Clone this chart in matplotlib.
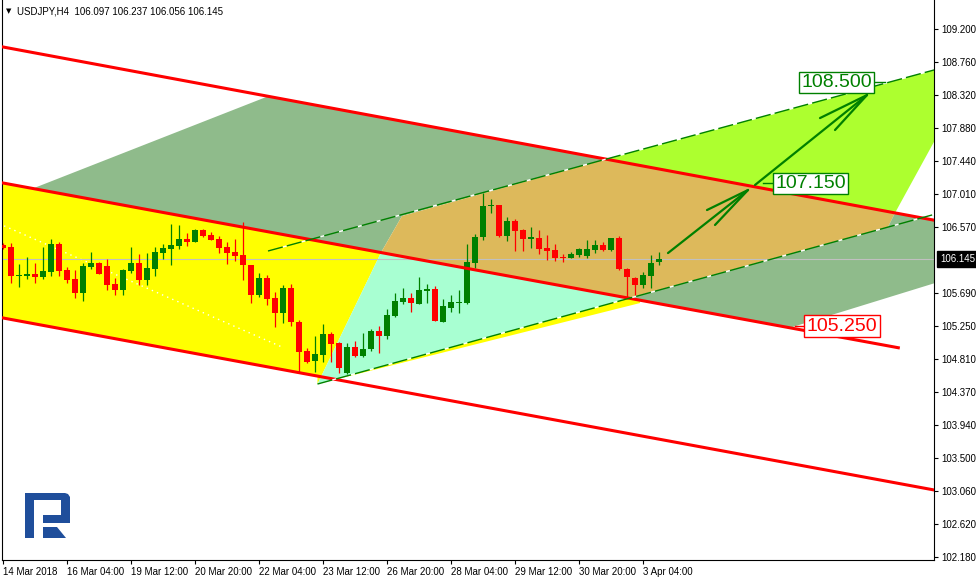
import numpy as np
import matplotlib
matplotlib.use("Agg")
import matplotlib.pyplot as plt
from matplotlib.patches import Polygon
from matplotlib.transforms import blended_transform_factory

plt.rcParams['font.family'] = ['Liberation Sans', 'DejaVu Sans']

# USDJPY H4 candles (bar index 0..82)
opens = [106.328, 106.297, 105.915, 105.920, 105.942, 105.906, 105.973, 106.341, 105.995, 105.871,
         105.694, 106.039, 106.093, 106.048, 105.809, 105.729, 105.982, 106.084, 105.862, 106.008,
         106.217, 106.274, 106.314, 106.407, 106.367, 106.527, 106.461, 106.407, 106.297, 106.230,
         106.195, 106.062, 105.663, 105.884, 105.618, 105.428, 105.751, 105.299, 104.918, 104.789,
         104.865, 105.144, 105.020, 104.621, 104.976, 104.852, 104.945, 105.184, 105.118, 105.383,
         105.570, 105.627, 105.543, 105.720, 105.743, 105.308, 105.494, 105.561, 105.552, 106.093,
         106.430, 106.842, 106.860, 106.447, 106.647, 106.527, 106.407, 106.416, 106.283, 106.261,
         106.164, 106.159, 106.195, 106.186, 106.261, 106.328, 106.261, 106.416, 106.004, 105.884,
         105.796, 105.915, 106.097]
highs = [106.350, 106.350, 106.075, 106.164, 106.093, 106.297, 106.407, 106.363, 106.031, 105.995,
         106.084, 106.230, 106.106, 106.137, 105.884, 106.008, 106.297, 106.208, 106.217, 106.305,
         106.341, 106.607, 106.594, 106.483, 106.540, 106.540, 106.496, 106.447, 106.372, 106.407,
         106.633, 106.062, 105.951, 105.929, 105.707, 105.796, 105.809, 105.330, 104.962, 105.117,
         105.277, 105.175, 105.042, 105.020, 105.055, 105.153, 105.206, 105.251, 105.472, 105.685,
         105.751, 105.694, 105.907, 105.809, 105.782, 105.610, 105.663, 105.729, 106.341, 106.474,
         107.024, 106.935, 106.860, 106.696, 106.669, 106.540, 106.563, 106.527, 106.461, 106.341,
         106.208, 106.239, 106.292, 106.394, 106.394, 106.372, 106.425, 106.447, 106.017, 105.907,
         105.973, 106.195, 106.237]
lows = [106.270, 105.818, 105.773, 105.880, 105.827, 105.871, 105.920, 105.920, 105.827, 105.627,
        105.587, 106.008, 105.942, 105.729, 105.663, 105.663, 105.960, 105.796, 105.796, 105.915,
        106.141, 106.062, 106.274, 106.314, 106.363, 106.430, 106.394, 106.226, 106.070, 106.119,
        105.862, 105.561, 105.632, 105.530, 105.242, 105.295, 105.250, 104.643, 104.754, 104.643,
        104.776, 104.776, 104.630, 104.612, 104.843, 104.843, 104.922, 104.896, 105.082, 105.375,
        105.539, 105.441, 105.543, 105.561, 105.321, 105.308, 105.441, 105.419, 105.543, 106.017,
        106.394, 106.749, 106.438, 106.385, 106.252, 106.252, 106.283, 106.208, 106.128, 106.119,
        106.106, 106.150, 106.172, 106.159, 106.217, 106.248, 106.252, 105.995, 105.618, 105.663,
        105.751, 105.751, 106.056]
closes = [106.292, 105.920, 105.929, 105.942, 105.906, 105.982, 106.341, 105.986, 105.862, 105.694,
          106.048, 106.093, 105.942, 105.796, 105.729, 105.995, 106.084, 105.862, 106.017, 106.230,
          106.283, 106.328, 106.407, 106.372, 106.527, 106.452, 106.394, 106.292, 106.226, 106.181,
          106.062, 105.663, 105.884, 105.609, 105.428, 105.751, 105.308, 104.909, 104.776, 104.874,
          105.144, 105.011, 104.688, 104.976, 104.852, 104.945, 105.184, 105.122, 105.397, 105.583,
          105.627, 105.552, 105.729, 105.747, 105.321, 105.516, 105.570, 105.570, 106.106, 106.438,
          106.846, 106.860, 106.447, 106.647, 106.518, 106.407, 106.430, 106.274, 106.252, 106.150,
          106.155, 106.208, 106.274, 106.274, 106.328, 106.261, 106.416, 106.004, 105.907, 105.796,
          105.929, 106.093, 106.145]

time_ticks = [0, 8, 16, 24, 32, 40, 48, 56, 64, 72, 80]
time_labels = ['14 Mar 2018', '16 Mar 04:00', '19 Mar 12:00', '20 Mar 20:00', '22 Mar 04:00',
               '23 Mar 12:00', '26 Mar 20:00', '28 Mar 04:00', '29 Mar 12:00', '30 Mar 20:00',
               '3 Apr 04:00']
price_ticks = [109.200, 108.760, 108.320, 107.880, 107.440, 107.010, 106.570, 105.690, 105.250,
               104.810, 104.370, 103.940, 103.500, 103.060, 102.620, 102.180]
last_price = 106.145

# red channel lines (bar, price)
red_upper = ([-1, 116.5], [108.981, 106.656])
red_middle = ([-1, 112.1], [107.172, 104.958])
red_lower = ([-1, 116.5], [105.377, 103.068])
# green dashed channel
green_upper = ([33.125, 116.5], [106.248, 108.659])
green_lower = ([39.31, 116.5], [104.479, 106.738])
white_dotted = ([-1, 34.875], [106.635, 104.971])

# filled zones (bar, price)
zone_yellow = [(-1, 107.172), (47.25, 106.227), (39.31, 104.479), (79.625, 105.664),
               (79.625, 105.556), (39.31, 104.479), (39.31, 104.585), (-1, 105.377)]
zone_aqua = [(47.25, 106.227), (78.125, 105.62), (39.31, 104.479)]
zone_sage_a = [(3.75, 107.08), (33.0, 108.30), (75.375, 107.47), (49.875, 106.713), (47.25, 106.227)]
zone_orange = [(47.25, 106.227), (49.875, 106.713), (75.375, 107.47), (111.5, 106.754),
               (110.625, 106.567), (78.125, 105.62)]
zone_lime = [(75.375, 107.47), (116.5, 108.659), (116.5, 107.724), (111.5, 106.754)]
zone_sage_d = [(78.125, 105.62), (110.625, 106.567), (111.5, 106.754), (116.5, 106.656),
               (116.5, 105.822), (98.375, 105.227)]

# forecast arrows: shaft start, tip, two head ends
arrows = [((83.125, 106.221), (93.125, 107.059), (88.0, 106.793), (89.0, 106.594)),
          ((94.0, 107.126), (108.0, 108.322), (102.125, 108.016), (104.0, 107.857))]
level_labels = ['108.500', '107.150', '105.250']
level_prices = [108.49, 107.146, 105.25]
level_bars = [104.2, 100.94, 104.875]
level_colors = ['#008000', '#008000', '#ff0000']
level_ticks = [(108.75, 110.25), (95.0, 96.4), (99.0, 100.4)]

fig = plt.figure(figsize=(9.76, 5.81), dpi=100)
ax = fig.add_axes([2 / 976, 21 / 581, 932 / 976, 560 / 581])
ax.set_xlim(-0.125, 116.375)
ax.set_ylim(102.139, 109.586)

for pts, col in [(zone_yellow, '#ffff00'), (zone_aqua, '#a8ffd2'), (zone_sage_a, '#8fbb8b'),
                 (zone_orange, '#ddb95b'), (zone_lime, '#adff2f'), (zone_sage_d, '#8fbb8b')]:
    ax.add_patch(Polygon(pts, closed=True, facecolor=col, edgecolor='none', zorder=1))

ax.plot(*white_dotted, color='white', lw=1.0, ls=(0, (1, 3)), zorder=1.5)
ax.axhline(last_price, color='#c0c0c0', lw=0.8, zorder=2)

x = np.arange(len(opens))
o = np.array(opens)
c = np.array(closes)
cols = np.where(c >= o, '#008000', '#ff0000')
ax.vlines(x, lows, highs, colors=cols, lw=0.9, zorder=3)
ax.bar(x, np.maximum(np.abs(c - o), 0.012), bottom=np.minimum(o, c), width=0.72,
       color=cols, zorder=3.1)

for xs, ys in [red_upper, red_middle, red_lower]:
    ax.plot(xs, ys, color='#ff0000', lw=2.2, zorder=4, solid_capstyle='butt')
for xs, ys in [green_upper, green_lower]:
    ax.plot(xs, ys, color='#008000', lw=1.0, dashes=(11, 3), gapcolor='white', zorder=4.5)

for start, tip, h1, h2 in arrows:
    kw = dict(color='#008000', lw=1.6, zorder=5, solid_capstyle='round')
    ax.plot([start[0], tip[0]], [start[1], tip[1]], **kw)
    ax.plot([h1[0], tip[0], h2[0]], [h1[1], tip[1], h2[1]], **kw)

for txt, yb, xb, col, (t0, t1) in zip(level_labels, level_prices, level_bars, level_colors, level_ticks):
    ax.plot([t0, t1], [yb, yb], color=col, lw=1.0, zorder=5)
    ax.text(xb, yb, txt, color=col, fontsize=14, ha='center', va='center', zorder=6,
            bbox=dict(boxstyle='square,pad=0.12', facecolor='white', edgecolor=col, lw=1.0))

ax.spines['top'].set_visible(False)
ax.yaxis.tick_right()
ax.set_yticks(price_ticks)
ax.set_yticklabels(['%.3f' % p for p in price_ticks])
ax.set_xticks(time_ticks)
ax.set_xticklabels(time_labels)
ax.tick_params(axis='both', labelsize=7, length=3, width=0.8, pad=2, colors='black')
for lbl in ax.get_xticklabels():
    lbl.set_ha('left')

tr = blended_transform_factory(ax.transAxes, ax.transData)
ax.text(1.0 + 6 / 932, last_price, '106.145', transform=tr, fontsize=7, color='white',
        ha='left', va='center', zorder=10, clip_on=False,
        bbox=dict(boxstyle='square,pad=0.3', facecolor='black', edgecolor='black'))

fig.text(6 / 976, 1 - 11 / 581, '\u25bc', fontsize=5, family='DejaVu Sans', va='center')
fig.text(17 / 976, 1 - 11 / 581, 'USDJPY,H4  106.097 106.237 106.056 106.145', fontsize=7,
         va='center')

# RoboForex logo
lg = fig.add_axes([24 / 976, (581 - 539) / 581, 47 / 976, 47 / 581])
lg.set_xlim(24, 71)
lg.set_ylim(539, 492)
lg.axis('off')
lg.add_patch(Polygon([(25, 493), (65, 493), (68, 494), (70, 497), (70, 523), (43, 523), (43, 515),
                      (61, 515), (61, 500), (34, 500), (34, 538), (25, 538)],
                     closed=True, facecolor='#1f4e9b', edgecolor='none'))
lg.add_patch(Polygon([(43, 527), (57, 527), (66, 538), (43, 538)], closed=True,
                     facecolor='#1f4e9b', edgecolor='none'))

fig.savefig('out.png', dpi=100)
